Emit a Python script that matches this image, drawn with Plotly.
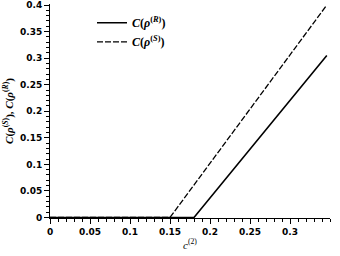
import plotly.graph_objects as go

# Data
c2_S = [0.0, 0.15, 0.346]
C_S = [0.0, 0.0, 0.40]
c2_R = [0.0, 0.18, 0.346]
C_R = [0.0, 0.0, 0.305]

x_ticks = [0, 0.05, 0.1, 0.15, 0.2, 0.25, 0.3]
x_tick_labels = ["0", "0.05", "0.1", "0.15", "0.2", "0.25", "0.3"]
y_ticks = [0, 0.05, 0.1, 0.15, 0.2, 0.25, 0.3, 0.35, 0.4]
y_tick_labels = ["0", "0.05", "0.1", "0.15", "0.2", "0.25", "0.3", "0.35", "0.4"]

fig = go.Figure()
fig.add_trace(go.Scatter(
    x=c2_R, y=C_R, mode="lines",
    line=dict(color="black", width=1.6, dash="solid"),
    name="<b><i>C</i>(<i>ρ</i><sup>(<i>R</i>)</sup>)</b>",
))
fig.add_trace(go.Scatter(
    x=c2_S, y=C_S, mode="lines",
    line=dict(color="black", width=1.3, dash="6px,2px"),
    name="<b><i>C</i>(<i>ρ</i><sup>(<i>S</i>)</sup>)</b>",
))

tickfont = dict(family="DejaVu Sans", size=9, color="black", weight="bold")

fig.update_layout(
    width=340, height=256,
    margin=dict(l=50, r=10, t=4, b=38),
    plot_bgcolor="white", paper_bgcolor="white",
    showlegend=True,
    legend=dict(
        x=0.15, y=0.98, xanchor="left", yanchor="top",
        font=dict(family="Liberation Serif", size=12, color="black"),
        bgcolor="rgba(0,0,0,0)", tracegroupgap=0,
    ),
    xaxis=dict(
        range=[0, 0.35], showgrid=False, zeroline=False, automargin=False,
        showline=True, linecolor="black", linewidth=1,
        ticks="outside", ticklen=5, tickwidth=1, tickcolor="black",
        tickvals=x_ticks, ticktext=x_tick_labels, tickfont=tickfont,
        minor=dict(dtick=0.01, ticks="outside", ticklen=3, tickcolor="black", showgrid=False),
        title=dict(text="<i>c</i><sup>(2)</sup>", font=dict(family="Liberation Serif", size=11, color="black"), standoff=5),
    ),
    yaxis=dict(
        range=[-0.001, 0.402], showgrid=False, zeroline=False, automargin=False,
        showline=True, linecolor="black", linewidth=1,
        ticks="outside", ticklen=5, tickwidth=1, tickcolor="black",
        tickvals=y_ticks, ticktext=y_tick_labels, tickfont=tickfont,
        minor=dict(dtick=0.01, ticks="outside", ticklen=3, tickcolor="black", showgrid=False),
        title=dict(text="<b><i>C</i>(<i>ρ</i><sup>(<i>S</i>)</sup>), <i>C</i>(<i>ρ</i><sup>(<i>R</i>)</sup>)</b>",
                   font=dict(family="Liberation Serif", size=11, color="black"), standoff=4),
    ),
)

fig.write_html("out.html", config={"displayModeBar": False},
               post_script="document.body.style.margin='0';")
